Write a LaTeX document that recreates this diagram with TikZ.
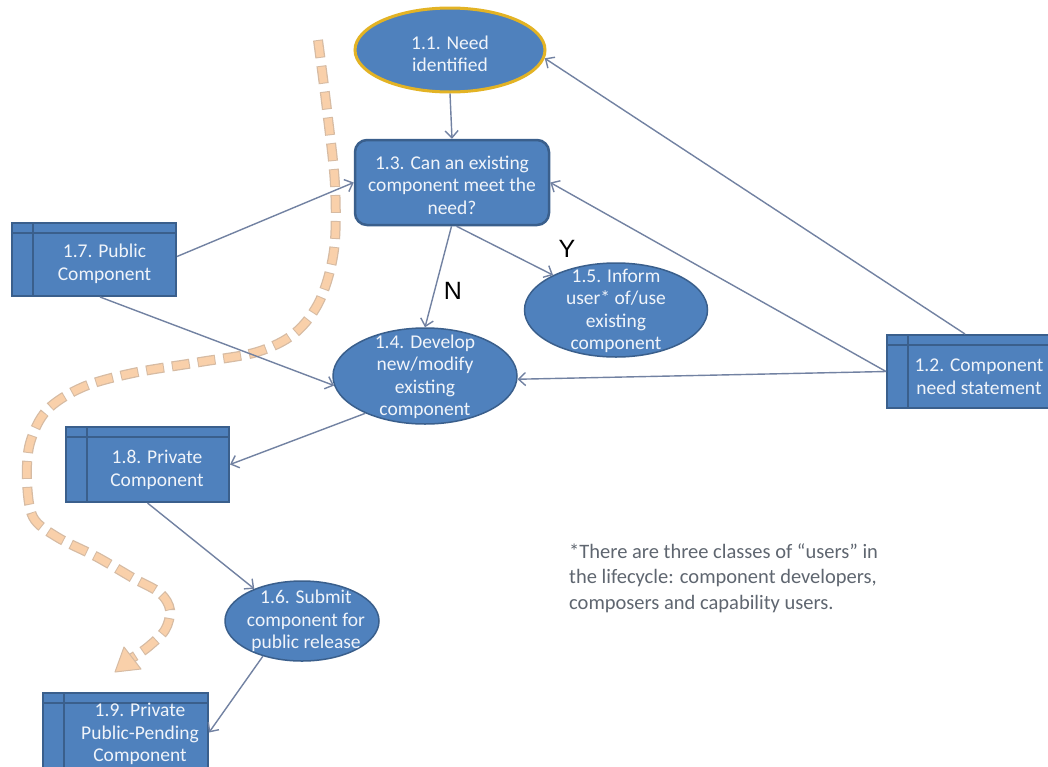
\documentclass[tikz,border=0pt]{standalone}
\usepackage{fontspec}
\setmainfont{Carlito}
\newfontfamily\labelfont{Liberation Sans}
\usetikzlibrary{arrows.meta,shapes.geometric}

\definecolor{procfill}{HTML}{4F81BD}
\definecolor{procedge}{HTML}{3A5F8C}
\definecolor{goldedge}{HTML}{E3B324}
\definecolor{linkcol}{HTML}{7282A2}
\definecolor{proctext}{HTML}{F0F4FA}
\definecolor{notegray}{HTML}{5F6670}
\definecolor{pathfill}{HTML}{F9D0AA}
\definecolor{pathedge}{HTML}{D6BBA3}

\begin{document}
\begin{tikzpicture}[x=1pt,y=-1pt,
  proc/.style={ellipse, fill=procfill, draw=procedge, line width=1.5pt, inner sep=0pt},
  decision/.style={rectangle, rounded corners=12pt, fill=procfill, draw=procedge, line width=2.5pt, inner sep=0pt},
  store/.style={rectangle, fill=procfill, draw=procedge, line width=2pt, inner sep=0pt,
    path picture={\draw[procedge, line width=2pt]
      ([xshift=21pt]path picture bounding box.north west) -- ([xshift=21pt]path picture bounding box.south west)
      ([yshift=-10pt]path picture bounding box.north west) -- ([yshift=-10pt]path picture bounding box.north east);}},
  caption/.style={text=proctext, align=center, inner sep=0pt, font=\fontsize{19.5}{22.5}\selectfont},
  link/.style={draw=linkcol, line width=1.4pt, -{Straight Barb[length=7pt,width=13pt]}},
  yn/.style={inner sep=0pt, font=\labelfont\fontsize{25}{28}\selectfont},
  note/.style={text=notegray, align=left, inner sep=0pt, font=\fontsize{20.5}{25.5}\selectfont},
  flowedge/.style={draw=pathedge, line width=10pt, dash pattern=on 18pt off 8pt},
  flowfill/.style={draw=pathfill, line width=7.5pt, dash pattern=on 16pt off 10pt, dash phase=-1pt}
]
\path[fill=white] (0,0) rectangle (1048,766);
\useasboundingbox (0,0) rectangle (1048,766);

% process ellipses
\node[proc, draw=goldedge, line width=3pt, minimum width=190pt, minimum height=84pt] (n11) at (450,50) {};
\node[proc, minimum width=184pt, minimum height=96pt] (n14) at (425,376) {};
\node[proc, minimum width=183pt, minimum height=94pt] (n15) at (616,310) {};
\node[proc, minimum width=154pt, minimum height=80pt] (n16) at (302,621) {};

% decision box
\node[decision, minimum width=194pt, minimum height=85pt] (n13) at (452,182.5) {};

% component stores
\node[store, minimum width=164pt, minimum height=73pt] (n17) at (94,259.5) {};
\node[store, minimum width=163pt, minimum height=73pt] (n12) at (968.5,371.5) {};
\node[store, minimum width=163pt, minimum height=75pt] (n18) at (147.5,464.5) {};
\node[store, minimum width=165pt, minimum height=79pt] (n19) at (125.5,732.5) {};

% texts
\node[caption] (t11) at (450,54) {1.1. Need\\identified};
\node[caption] (t13) at (452,185) {1.3. Can an existing\\component meet the\\need?};
\node[caption] (t14) at (425,377) {1.4. Develop\\new/modify\\existing\\component};
\node[caption] (t15) at (616,311) {1.5. Inform\\user* of/use\\existing\\component};
\node[caption] (t16) at (306,621) {1.6. Submit\\component for\\public release};
\node[caption] (t17) at (104.5,264) {1.7. Public\\Component};
\node[caption] (t12) at (979,376.5) {1.2. Component\\need statement};
\node[caption] (t18) at (157,470) {1.8. Private\\Component};
\node[caption] (t19) at (140,734) {1.9. Private\\Public-Pending\\Component};

% flow of the component towards public release
\coordinate (fs) at (318,40);
\coordinate (fe) at (132,658);
\coordinate (ftip) at (115,672);
\draw[flowedge] plot[smooth, tension=0.55] coordinates {(fs) (327,110) (335,185) (334,250) (320,300) (295,333) (257,352) (200,362) (133,373) (83,387) (47,410) (30,443) (27,480) (33,517) (57,537) (97,557) (133,578) (160,593) (170,610) (165,630) (148,647) (fe)};
\draw[flowfill] plot[smooth, tension=0.55] coordinates {(fs) (327,110) (335,185) (334,250) (320,300) (295,333) (257,352) (200,362) (133,373) (83,387) (47,410) (30,443) (27,480) (33,517) (57,537) (97,557) (133,578) (160,593) (170,610) (165,630) (148,647) (fe)};
\filldraw[fill=pathfill, draw=pathedge, line width=1pt, line join=round] (ftip) -- (141,669) -- (124,647) -- cycle;

% connectors
\draw[link] (n11.south) -- (n13.north);
\draw[link] ([xshift=-3.5pt]n12.north) -- (n11.-5);
\draw[link] (n12.west) -- (n13.east);
\draw[link] (n12.west) -- (n14.-2);
\draw[link] ([xshift=4.5pt]n13.south) -- (n15.151);
\draw[link] ([xshift=-0.5pt]n13.south) -- (n14.north);
\draw[link] ([yshift=3pt]n17.east) -- (n13.west);
\draw[link] ([xshift=6pt]n17.south) -- (n14.186);
\draw[link] (n14.212) -- (n18.east);
\draw[link] (n18.south) -- (n16.146);
\draw[link] (n16.222) -- (n19.east);

% decision labels
\node[yn] (lN) at (453,291) {N};
\node[yn] (lY) at (567,249) {Y};

% footnote
\node[note, anchor=west] (fn) at (569,578) {*There are three classes of “users” in\\the lifecycle: component developers,\\composers and capability users.};
\end{tikzpicture}
\end{document}
